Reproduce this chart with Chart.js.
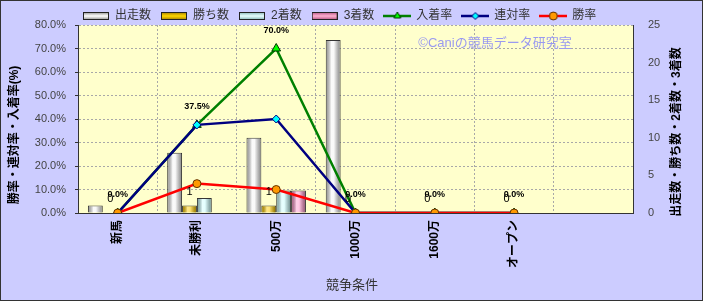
<!DOCTYPE html>
<html>
<head>
<meta charset="utf-8">
<script src="https://cdn.jsdelivr.net/npm/chart.js@4.4.0/dist/chart.umd.min.js"></script>
<style>
  html, body { margin: 0; padding: 0; background: #ccccff; }
  canvas { display: block; }
</style>
</head>
<body>
<canvas id="myChart" width="703" height="301"></canvas>
<script>
// 競争条件別の成績
const categories   = ["新馬", "未勝利", "500万", "1000万", "1600万", "オープン", ""];
const runs         = [1, 8, 10, 23, 0, 0, null];      // 出走数
const wins         = [0, 1, 1, 0, 0, 0, null];        // 勝ち数
const seconds      = [0, 2, 3, 0, 0, 0, null];        // 2着数
const thirds       = [0, 0, 3, 0, 0, 0, null];        // 3着数
const placeRate    = [0, 37.5, 70, 0, 0, 0, null];    // 入着率
const quinellaRate = [0, 37.5, 40, 0, 0, 0, null];    // 連対率
const winRate      = [0, 12.5, 10, 0, 0, 0, null];    // 勝率
const rateTicks    = [0, 10, 20, 30, 40, 50, 60, 70, 80];
const countTicks   = [0, 5, 10, 15, 20, 25];

const FONT = '"Liberation Sans", "Noto Sans CJK JP", sans-serif';

// legend icons
function barIcon(mid, edge) {
  const cv = document.createElement('canvas');
  cv.width = 26; cv.height = 8;
  const g = cv.getContext('2d');
  const gr = g.createLinearGradient(0, 0, 0, 8);
  gr.addColorStop(0, edge);
  gr.addColorStop(0.5, mid);
  gr.addColorStop(1, edge);
  g.fillStyle = gr;
  g.fillRect(0, 0, 26, 8);
  g.strokeStyle = '#222';
  g.lineWidth = 1;
  g.strokeRect(0.5, 0.5, 25, 7);
  return cv;
}

function lineIcon(color, style, fill, stroke, r) {
  const cv = document.createElement('canvas');
  cv.width = 28; cv.height = 12;
  const g = cv.getContext('2d');
  g.strokeStyle = color;
  g.lineWidth = 2.5;
  g.beginPath(); g.moveTo(0, 6); g.lineTo(28, 6); g.stroke();
  g.fillStyle = fill;
  g.strokeStyle = stroke;
  g.lineWidth = 1;
  Chart.helpers.drawPoint(g, { pointStyle: style, radius: r, borderWidth: 1, rotation: 0 }, 14, 6);
  return cv;
}

const icons = [
  barIcon('#ffffff', '#8a8a8a'),
  barIcon('#ffd700', '#a07800'),
  barIcon('#e8ffff', '#80b0b0'),
  barIcon('#ffb0d0', '#b05080'),
  lineIcon('#008000', 'triangle', '#00ff00', '#003300', 4),
  lineIcon('#000080', 'rectRot', '#00ffff', '#000080', 3.5),
  lineIcon('#ff0000', 'circle', '#ff9900', '#663300', 4)
];

// backgrounds, borders, titles, watermark
const decorPlugin = {
  id: 'decor',
  beforeDraw(chart) {
    const { ctx, chartArea: a } = chart;
    ctx.save();
    ctx.fillStyle = '#ccccff';
    ctx.fillRect(0, 0, chart.width, chart.height);
    ctx.fillStyle = '#ffffcc';
    ctx.fillRect(a.left, a.top, a.right - a.left, a.bottom - a.top);
    ctx.restore();
  },
  beforeDatasetsDraw(chart) {
    const ctx = chart.ctx;
    ctx.save();
    ctx.font = '13px ' + FONT;
    ctx.fillStyle = '#9a9af0';
    ctx.textAlign = 'center';
    ctx.textBaseline = 'middle';
    ctx.fillText('©Caniの競馬データ研究室', 495, 43);
    ctx.restore();
  },
  afterDatasetDraw(chart, args) {
    // cylinder shading on each bar
    const meta = args.meta;
    if (meta.type !== 'bar') return;
    const ctx = chart.ctx;
    ctx.save();
    meta.data.forEach(el => {
      const { x, y, base, width } = el.getProps(['x', 'y', 'base', 'width'], true);
      const h = base - y;
      if (!(h > 2)) return;
      const l = x - width / 2 + 1, r = x + width / 2 - 1;
      const g = ctx.createLinearGradient(l, 0, r, 0);
      g.addColorStop(0, 'rgba(0,0,0,0.35)');
      g.addColorStop(0.35, 'rgba(255,255,255,0.55)');
      g.addColorStop(0.55, 'rgba(255,255,255,0.45)');
      g.addColorStop(1, 'rgba(0,0,0,0.4)');
      ctx.fillStyle = g;
      ctx.fillRect(l, y + 1, r - l, h - 1);
    });
    ctx.restore();
  },
  afterDatasetsDraw(chart) {
    const ctx = chart.ctx;
    ctx.save();
    ctx.textAlign = 'center';
    ctx.textBaseline = 'middle';
    ctx.fillStyle = '#000';
    // 勝ち数 labels
    ctx.font = '11px ' + FONT;
    chart.getDatasetMeta(1).data.forEach((el, i) => {
      if (wins[i] == null) return;
      ctx.fillText(String(wins[i]), el.x, el.y - 14);
    });
    // 入着率 labels
    ctx.font = 'bold 9px ' + FONT;
    chart.getDatasetMeta(4).data.forEach((el, i) => {
      if (placeRate[i] == null) return;
      ctx.fillText(placeRate[i].toFixed(1) + '%', el.x, el.y - 18);
    });
    ctx.restore();
  },
  afterDraw(chart) {
    const ctx = chart.ctx;
    ctx.save();
    ctx.fillStyle = '#000';
    ctx.textAlign = 'center';
    ctx.textBaseline = 'middle';
    ctx.font = 'bold 12px ' + FONT;
    ctx.translate(15, 135);
    ctx.rotate(-Math.PI / 2);
    ctx.fillText('勝率・連対率・入着率(%)', 0, 0);
    ctx.restore();

    ctx.save();
    ctx.fillStyle = '#000';
    ctx.textAlign = 'center';
    ctx.textBaseline = 'middle';
    ctx.font = 'bold 12px ' + FONT;
    ctx.translate(677, 132);
    ctx.rotate(-Math.PI / 2);
    ctx.fillText('出走数・勝ち数・2着数・3着数', 0, 0);
    ctx.restore();

    ctx.save();
    ctx.fillStyle = '#333';
    ctx.textAlign = 'center';
    ctx.textBaseline = 'middle';
    ctx.font = '13px ' + FONT;
    ctx.fillText('競争条件', 352, 285);
    ctx.strokeStyle = '#333';
    ctx.lineWidth = 1;
    ctx.strokeRect(0.5, 0.5, chart.width - 1, chart.height - 1);
    ctx.restore();
  },
  afterLayout(chart) {
    // push the legend to start above the plot like the original
    chart.legend.left = 73;
  }
};

const gridColor = '#a8a8a8';

new Chart(document.getElementById('myChart').getContext('2d'), {
  type: 'bar',
  data: {
    labels: categories,
    datasets: [
      { label: '出走数', data: runs, yAxisID: 'y1', order: 3,
        backgroundColor: '#f4f4f4', borderColor: '#333', borderWidth: 1,
        barPercentage: 1, categoryPercentage: 0.75 },
      { label: '勝ち数', data: wins, yAxisID: 'y1', order: 3,
        backgroundColor: '#ffcc00', borderColor: '#333', borderWidth: 1,
        barPercentage: 1, categoryPercentage: 0.75 },
      { label: '2着数', data: seconds, yAxisID: 'y1', order: 3,
        backgroundColor: '#ccffff', borderColor: '#333', borderWidth: 1,
        barPercentage: 1, categoryPercentage: 0.75 },
      { label: '3着数', data: thirds, yAxisID: 'y1', order: 3,
        backgroundColor: '#ff99cc', borderColor: '#333', borderWidth: 1,
        barPercentage: 1, categoryPercentage: 0.75 },
      { type: 'line', label: '入着率', data: placeRate, yAxisID: 'y', order: 2,
        borderColor: '#008000', borderWidth: 2.5, pointStyle: 'triangle', pointRadius: 5,
        pointBackgroundColor: '#00ff00', pointBorderColor: '#003300', pointBorderWidth: 1, tension: 0 },
      { type: 'line', label: '連対率', data: quinellaRate, yAxisID: 'y', order: 1,
        borderColor: '#000080', borderWidth: 2.5, pointStyle: 'rectRot', pointRadius: 4,
        pointBackgroundColor: '#00ffff', pointBorderColor: '#000080', pointBorderWidth: 1, tension: 0 },
      { type: 'line', label: '勝率', data: winRate, yAxisID: 'y', order: 0,
        borderColor: '#ff0000', borderWidth: 2.5, pointStyle: 'circle', pointRadius: 4,
        pointBackgroundColor: '#ff9900', pointBorderColor: '#663300', pointBorderWidth: 1, tension: 0 }
    ]
  },
  options: {
    responsive: false,
    animation: false,
    layout: { padding: 0 },
    plugins: {
      tooltip: { enabled: false },
      legend: {
        position: 'top',
        align: 'start',
        maxHeight: 25,
        labels: {
          usePointStyle: true,
          pointStyleWidth: 26,
          padding: 10,
          color: '#333',
          font: { size: 12, family: FONT },
          sort: (a, b) => a.datasetIndex - b.datasetIndex,
          generateLabels(chart) {
            const items = Chart.defaults.plugins.legend.labels.generateLabels(chart);
            items.forEach(it => { it.pointStyle = icons[it.datasetIndex]; it.fontColor = '#333'; });
            return items;
          }
        }
      }
    },
    scales: {
      x: {
        offset: true,
        grid: { color: gridColor, drawTicks: false, offset: true },
        border: { display: true, color: '#333', dash: [2, 2] },
        ticks: {
          autoSkip: false, minRotation: 90, maxRotation: 90, padding: 7,
          color: '#000', font: { size: 12, weight: 'bold', family: FONT }
        },
        afterFit(s) { s.height = 88; }
      },
      y: {
        position: 'left',
        min: 0, max: 80,
        afterBuildTicks(s) { s.ticks = rateTicks.map(v => ({ value: v })); },
        grid: { color: gridColor, tickColor: '#333', tickLength: 3 },
        border: { display: true, color: '#333', dash: [2, 2] },
        ticks: {
          padding: 9, color: '#444', font: { size: 11, family: FONT },
          callback: v => Number(v).toFixed(1) + '%'
        },
        afterFit(s) { s.width = 78; }
      },
      y1: {
        position: 'right',
        min: 0, max: 25,
        afterBuildTicks(s) { s.ticks = countTicks.map(v => ({ value: v })); },
        grid: { drawOnChartArea: false, drawTicks: false },
        border: { display: true, color: '#333' },
        ticks: { padding: 15, color: '#444', font: { size: 11, family: FONT } },
        afterFit(s) { s.width = 70; }
      }
    }
  },
  plugins: [decorPlugin]
});
</script>
</body>
</html>
